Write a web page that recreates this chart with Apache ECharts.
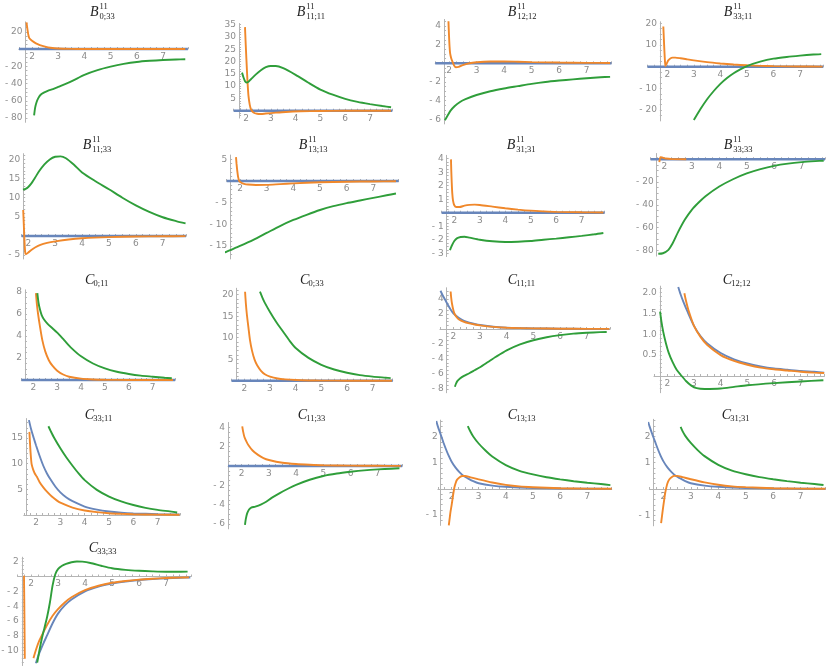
<!doctype html>
<html lang="en">
<head>
    <meta charset="UTF-8">
    <title>B and C coefficients</title>
    <script type="text/javascript" src="https://cdn.jsdelivr.net/npm/echarts@6.0.0/dist/echarts.min.js"></script>
    <style>
        html, body { margin: 0; padding: 0; background: #fff; }
        #main { width: 830px; height: 668px; }
    </style>
</head>
<body>
<div id="main"></div>
<script type="text/javascript">
    // values, [x, y] pairs per curve
    var xLabels = [2, 3, 4, 5, 6, 7];

    // B^11_{0;33}
    var B033_blue = [[1.5, 0], [7.95, 0]];
    var B033_orange = [[1.79, 31], [1.83, 22], [1.87, 15], [1.9, 12.4], [2.0, 9.5], [2.15, 6.5], [2.3, 4.6], [2.5, 2.8], [2.7, 1.5], [3, 0.5], [3.5, 0.1], [4, 0.02], [7.85, 0]];
    var B033_green = [[2.08, -77], [2.12, -68], [2.17, -62], [2.24, -57], [2.33, -53], [2.45, -50.5], [2.6, -48.5], [2.8, -46.5], [3, -44], [3.5, -37.5], [4, -30], [4.5, -24.5], [5, -20.5], [5.5, -17.3], [6, -15], [6.5, -13.7], [7, -12.8], [7.5, -12.2], [7.85, -11.8]];

    // B^11_{11;11}
    var B1111_blue = [[1.5, 0], [7.9, 0]];
    var B1111_orange = [[1.96, 34], [1.98, 29], [2.0, 24.5], [2.03, 18], [2.06, 12], [2.1, 6], [2.15, 2.5], [2.2, 0.6], [2.3, -0.7], [2.45, -1.25], [2.6, -1.35], [2.8, -1.15], [3.2, -0.8], [3.6, -0.5], [4.2, -0.25], [5, -0.1], [6, -0.03], [7.85, 0]];
    var B1111_green = [[1.84, 15.5], [1.9, 13.5], [1.96, 12], [2.02, 11.5], [2.1, 11.8], [2.2, 12.8], [2.4, 14.8], [2.6, 16.5], [2.8, 17.7], [3.0, 18.2], [3.2, 18.2], [3.5, 17.3], [4, 14.6], [4.5, 11.5], [5, 8.6], [5.5, 6.5], [6, 4.8], [6.5, 3.6], [7, 2.7], [7.5, 1.9], [7.85, 1.4]];

    // B^11_{12;12}
    var B1212_blue = [[1.5, 0], [7.9, 0]];
    var B1212_orange = [[1.98, 4.5], [2.0, 3.0], [2.02, 1.8], [2.04, 1.1], [2.08, 0.55], [2.13, 0.15], [2.18, -0.2], [2.25, -0.42], [2.35, -0.38], [2.5, -0.2], [2.7, -0.02], [3.0, 0.12], [3.5, 0.2], [4, 0.2], [4.5, 0.17], [5, 0.13], [6, 0.08], [7, 0.05], [7.85, 0.03]];
    var B1212_green = [[1.85, -6.1], [1.95, -5.6], [2.05, -5.1], [2.2, -4.6], [2.4, -4.15], [2.6, -3.85], [3, -3.4], [3.5, -3.0], [4, -2.7], [4.5, -2.45], [5, -2.2], [5.5, -2.0], [6, -1.85], [6.5, -1.72], [7, -1.6], [7.5, -1.5], [7.85, -1.45]];

    // B^11_{33;11}
    var B3311_blue = [[1.25, 0], [7.88, 0]];
    var B3311_orange = [[1.85, 18.5], [1.87, 13], [1.89, 7.5], [1.91, 3], [1.93, 0.3], [1.95, 0.5], [1.98, 1.5], [2.03, 2.8], [2.1, 3.7], [2.2, 4.2], [2.3, 4.2], [2.5, 3.9], [2.75, 3.4], [3, 2.9], [3.5, 2.1], [4, 1.5], [4.5, 1.0], [5, 0.65], [5.5, 0.4], [6, 0.25], [7, 0.1], [7.85, 0.05]];
    var B3311_green = [[3.0, -24.6], [3.25, -19.5], [3.5, -15], [3.75, -11.2], [4, -7.9], [4.25, -5.2], [4.5, -3], [4.75, -1.2], [5, 0.3], [5.5, 2.3], [6, 3.7], [6.5, 4.5], [7, 5.1], [7.5, 5.6], [7.8, 5.8]];

    // B^11_{11;33}
    var B1133_blue = [[1.75, 0], [7.87, 0]];
    var B1133_orange = [[1.81, 6.8], [1.83, 3.5], [1.85, 0], [1.87, -3], [1.89, -4.5], [1.92, -4.7], [2.0, -4.3], [2.1, -3.7], [2.25, -3.0], [2.45, -2.3], [2.7, -1.8], [3, -1.4], [3.5, -0.9], [4, -0.6], [5, -0.3], [6, -0.15], [7, -0.07], [7.85, -0.04]];
    var B1133_green = [[1.8, 12.1], [1.9, 12.3], [2.0, 12.8], [2.1, 13.6], [2.25, 15.2], [2.4, 16.9], [2.6, 18.7], [2.8, 20], [3.0, 20.7], [3.2, 20.8], [3.4, 20.3], [3.7, 18.6], [4, 16.6], [4.5, 14.3], [5, 12.2], [5.5, 10], [6, 8], [6.5, 6.3], [7, 4.9], [7.5, 3.9], [7.85, 3.3]];

    // B^11_{13;13}
    var B1313_blue = [[1.5, 0], [7.95, 0]];
    var B1313_orange = [[1.85, 5.5], [1.87, 4], [1.9, 2.2], [1.93, 0.9], [1.97, 0], [2.05, -0.4], [2.15, -0.65], [2.3, -0.82], [2.6, -0.92], [3, -0.9], [3.5, -0.72], [4, -0.55], [5, -0.3], [6, -0.16], [7, -0.1], [7.85, -0.07]];
    var B1313_green = [[1.25, -17], [1.5, -16.3], [2, -15], [2.5, -13.6], [3, -12], [3.5, -10.4], [4, -9], [4.5, -7.8], [5, -6.7], [5.5, -5.8], [6, -5.1], [6.5, -4.5], [7, -3.9], [7.5, -3.3], [7.85, -2.9]];

    // B^11_{31;31}
    var B3131_blue = [[1.5, 0], [7.9, 0]];
    var B3131_orange = [[1.87, 3.95], [1.88, 3.2], [1.9, 2.2], [1.92, 1.45], [1.95, 0.9], [2.0, 0.55], [2.08, 0.42], [2.2, 0.42], [2.4, 0.52], [2.6, 0.58], [2.8, 0.6], [3, 0.57], [3.5, 0.45], [4, 0.33], [4.5, 0.23], [5, 0.15], [5.5, 0.1], [6, 0.06], [7, 0.03], [7.85, 0.02]];
    var B3131_green = [[1.83, -2.77], [1.9, -2.45], [2.0, -2.1], [2.1, -1.9], [2.25, -1.8], [2.4, -1.78], [2.6, -1.85], [3, -2.0], [3.5, -2.12], [4, -2.17], [4.5, -2.15], [5, -2.1], [5.5, -2.0], [6, -1.92], [6.5, -1.82], [7, -1.72], [7.5, -1.6], [7.85, -1.5]];

    // B^11_{33;33}
    var B3333_blue = [[1.5, 0], [7.85, 0]];
    var B3333_orange = [[1.82, -2.5], [1.86, 1.8], [1.92, 1.5], [2.05, 0.6], [2.3, 0.1], [2.8, 0]];
    var B3333_green = [[1.78, -83], [1.95, -82.5], [2.15, -79.5], [2.3, -74], [2.5, -64], [2.75, -53], [3, -44.4], [3.25, -38], [3.5, -32.5], [4, -24], [4.5, -17.6], [5, -12.5], [5.5, -8.7], [6, -5.8], [6.5, -3.9], [7, -2.6], [7.5, -1.7], [7.8, -1.3]];

    // C_{0;11}
    var C011_blue = [[1.5, 0], [7.94, 0]];
    var C011_orange = [[2.11, 7.9], [2.15, 6.9], [2.2, 6.0], [2.28, 4.85], [2.38, 3.6], [2.5, 2.6], [2.65, 1.8], [2.8, 1.3], [3, 0.85], [3.25, 0.5], [3.5, 0.3], [4, 0.12], [4.5, 0.05], [5, 0.02], [6, 0], [7.85, 0]];
    var C011_green = [[2.17, 7.9], [2.22, 7.0], [2.28, 6.4], [2.35, 5.9], [2.45, 5.5], [2.6, 5.1], [2.8, 4.7], [3, 4.3], [3.3, 3.6], [3.6, 2.9], [4, 2.15], [4.5, 1.5], [5, 1.05], [5.5, 0.75], [6, 0.55], [6.5, 0.4], [7, 0.3], [7.5, 0.2], [7.8, 0.16]];

    // C_{0;33}
    var C033_blue = [[1.5, 0], [7.78, 0]];
    var C033_orange = [[2.03, 20.7], [2.06, 18], [2.1, 15.4], [2.16, 12.4], [2.22, 9.5], [2.3, 7.0], [2.4, 4.9], [2.5, 3.6], [2.65, 2.3], [2.8, 1.5], [3, 0.95], [3.3, 0.5], [3.6, 0.3], [4, 0.15], [4.5, 0.06], [5, 0.02], [6, 0], [7.75, 0]];
    var C033_green = [[2.61, 20.7], [2.7, 19.4], [2.8, 18.1], [3, 16.0], [3.25, 13.6], [3.5, 11.5], [3.75, 9.4], [4, 7.6], [4.5, 5.3], [5, 3.7], [5.5, 2.6], [6, 1.85], [6.5, 1.3], [7, 0.95], [7.5, 0.7], [7.7, 0.6]];

    // C_{11;11}
    var C1111_blue = [[1.52, 5.1], [1.6, 4.5], [1.7, 3.85], [1.8, 3.2], [1.9, 2.6], [2, 2.1], [2.2, 1.5], [2.4, 1.1], [2.6, 0.85], [2.8, 0.67], [3, 0.53], [3.5, 0.3], [4, 0.18], [4.5, 0.12], [5, 0.08], [6, 0.04], [7, 0.02], [7.85, 0.01]];
    var C1111_orange = [[1.9, 5.0], [1.92, 4.2], [1.95, 3.4], [2.0, 2.55], [2.05, 2.0], [2.12, 1.6], [2.2, 1.3], [2.4, 0.95], [2.6, 0.75], [2.8, 0.6], [3, 0.48], [3.5, 0.28], [4, 0.17], [5, 0.08], [6, 0.04], [7, 0.02], [7.85, 0.01]];
    var C1111_green = [[2.06, -7.7], [2.1, -7.3], [2.15, -6.95], [2.25, -6.6], [2.4, -6.25], [2.6, -5.9], [2.8, -5.5], [3, -5.1], [3.3, -4.4], [3.6, -3.7], [4, -2.85], [4.5, -2.05], [5, -1.5], [5.5, -1.1], [6, -0.82], [6.5, -0.62], [7, -0.5], [7.5, -0.42], [7.75, -0.4]];

    // C_{12;12}
    var C1212_blue = [[2.41, 2.13], [2.5, 1.95], [2.6, 1.78], [2.75, 1.55], [3, 1.2], [3.25, 0.95], [3.5, 0.78], [4, 0.55], [4.5, 0.4], [5, 0.3], [5.5, 0.23], [6, 0.18], [6.5, 0.15], [7, 0.12], [7.5, 0.1], [7.88, 0.08]];
    var C1212_orange = [[2.64, 1.98], [2.7, 1.8], [2.8, 1.56], [3, 1.2], [3.25, 0.93], [3.5, 0.74], [4, 0.5], [4.5, 0.36], [5, 0.27], [5.5, 0.2], [6, 0.16], [6.5, 0.13], [7, 0.1], [7.5, 0.08], [7.88, 0.07]];
    var C1212_green = [[1.73, 1.54], [1.78, 1.3], [1.85, 1.05], [1.95, 0.78], [2.05, 0.56], [2.2, 0.33], [2.35, 0.15], [2.5, 0.03], [2.7, -0.12], [2.9, -0.23], [3.1, -0.29], [3.4, -0.31], [4, -0.3], [4.5, -0.26], [5, -0.22], [6, -0.17], [7, -0.13], [7.85, -0.1]];

    // C_{33;11}
    var C3311_blue = [[1.71, 18.5], [1.8, 16.7], [1.9, 15.1], [2, 13.6], [2.15, 11.5], [2.3, 9.6], [2.45, 8.1], [2.6, 6.9], [2.8, 5.5], [3, 4.4], [3.25, 3.4], [3.5, 2.7], [4, 1.65], [4.5, 1.05], [5, 0.68], [5.5, 0.46], [6, 0.32], [7, 0.16], [7.9, 0.1]];
    var C3311_orange = [[1.73, 16.2], [1.75, 14.3], [1.78, 12], [1.82, 9.9], [1.88, 8.9], [1.95, 8.1], [2.03, 7.5], [2.15, 6.4], [2.3, 5.4], [2.45, 4.55], [2.65, 3.6], [2.85, 2.85], [3, 2.4], [3.5, 1.45], [4, 0.88], [4.5, 0.55], [5, 0.35], [5.5, 0.23], [6, 0.15], [7, 0.07], [7.9, 0.04]];
    var C3311_green = [[2.51, 17.3], [2.6, 16.4], [2.75, 15], [3, 13], [3.25, 11.2], [3.5, 9.6], [3.75, 8.1], [4, 6.8], [4.5, 4.9], [5, 3.6], [5.5, 2.65], [6, 1.95], [6.5, 1.4], [7, 1.0], [7.5, 0.7], [7.8, 0.5]];

    // C_{11;33}
    var C1133_blue = [[1.5, 0], [7.9, 0]];
    var C1133_orange = [[2.02, 4.1], [2.05, 3.6], [2.1, 3.0], [2.18, 2.5], [2.25, 2.15], [2.4, 1.6], [2.6, 1.15], [2.8, 0.82], [3, 0.62], [3.5, 0.33], [4, 0.2], [4.5, 0.13], [5, 0.08], [6, 0.04], [7, 0.02], [7.85, 0.01]];
    var C1133_green = [[2.12, -6.1], [2.15, -5.5], [2.2, -4.9], [2.27, -4.5], [2.35, -4.3], [2.5, -4.2], [2.7, -4.0], [2.9, -3.7], [3.1, -3.3], [3.4, -2.8], [3.7, -2.35], [4, -1.95], [4.5, -1.42], [5, -1.03], [5.5, -0.78], [6, -0.6], [6.5, -0.45], [7, -0.35], [7.5, -0.28], [7.8, -0.24]];

    // C_{13;13}
    var C1313_blue = [[1.44, 2.62], [1.5, 2.4], [1.6, 2.1], [1.7, 1.8], [1.8, 1.52], [1.9, 1.27], [2, 1.06], [2.15, 0.82], [2.3, 0.64], [2.45, 0.5], [2.6, 0.41], [2.8, 0.3], [3, 0.22], [3.5, 0.13], [4, 0.085], [5, 0.04], [6, 0.02], [7, 0.01], [7.9, 0.005]];
    var C1313_orange = [[1.9, -1.4], [1.93, -1.15], [1.96, -0.9], [2.0, -0.65], [2.05, -0.3], [2.1, 0.03], [2.15, 0.22], [2.2, 0.35], [2.3, 0.45], [2.4, 0.5], [2.5, 0.5], [2.7, 0.45], [3, 0.37], [3.5, 0.25], [4, 0.16], [4.5, 0.1], [5, 0.07], [6, 0.03], [7, 0.015], [7.9, 0.01]];
    var C1313_green = [[2.6, 2.42], [2.7, 2.2], [2.8, 2.02], [3, 1.75], [3.25, 1.48], [3.5, 1.25], [4, 0.92], [4.5, 0.7], [5, 0.56], [5.5, 0.45], [6, 0.37], [6.5, 0.3], [7, 0.24], [7.5, 0.19], [7.85, 0.15]];

    // C_{31;31}
    var C3131_blue = [[1.45, 2.55], [1.5, 2.38], [1.6, 2.08], [1.7, 1.8], [1.8, 1.52], [1.9, 1.27], [2, 1.06], [2.15, 0.82], [2.3, 0.64], [2.45, 0.5], [2.6, 0.41], [2.8, 0.3], [3, 0.22], [3.5, 0.13], [4, 0.085], [5, 0.04], [6, 0.02], [7, 0.01], [7.9, 0.005]];
    var C3131_orange = [[1.92, -1.3], [1.95, -1.05], [1.98, -0.8], [2.02, -0.5], [2.07, -0.15], [2.12, 0.1], [2.17, 0.27], [2.23, 0.38], [2.3, 0.45], [2.4, 0.5], [2.5, 0.5], [2.7, 0.45], [3, 0.37], [3.5, 0.25], [4, 0.16], [4.5, 0.1], [5, 0.07], [6, 0.03], [7, 0.015], [7.9, 0.01]];
    var C3131_green = [[2.63, 2.36], [2.7, 2.2], [2.8, 2.02], [3, 1.75], [3.25, 1.48], [3.5, 1.25], [4, 0.92], [4.5, 0.7], [5, 0.56], [5.5, 0.45], [6, 0.37], [6.5, 0.3], [7, 0.24], [7.5, 0.19], [7.83, 0.15]];

    // C_{33;33} (orange has a pole, drawn in two pieces)
    var C3333_blue = [[2.18, -11.7], [2.3, -10.4], [2.46, -9.0], [2.6, -7.9], [2.8, -6.3], [3, -5.0], [3.25, -3.9], [3.5, -3.1], [4, -2.0], [4.5, -1.35], [5, -0.95], [5.5, -0.68], [6, -0.48], [6.5, -0.34], [7, -0.24], [7.5, -0.17], [7.9, -0.13]];
    var C3333_orangeA = [[1.74, 0.1], [1.75, -3], [1.76, -7], [1.77, -11.1]];
    var C3333_orangeB = [[2.09, -11.0], [2.2, -9.7], [2.3, -8.7], [2.46, -7.5], [2.6, -6.5], [2.8, -5.3], [3, -4.4], [3.25, -3.5], [3.5, -2.8], [4, -1.85], [4.5, -1.25], [5, -0.85], [5.5, -0.6], [6, -0.42], [6.5, -0.3], [7, -0.21], [7.5, -0.15], [7.85, -0.12]];
    var C3333_green = [[2.23, -11.6], [2.3, -10.2], [2.4, -8.4], [2.5, -6.9], [2.6, -5.4], [2.7, -3.5], [2.8, -1.2], [2.9, 0.3], [3, 1.0], [3.15, 1.45], [3.3, 1.7], [3.5, 1.92], [3.7, 2.02], [3.9, 2.0], [4.2, 1.82], [4.6, 1.45], [5, 1.12], [5.5, 0.9], [6, 0.77], [6.5, 0.69], [7, 0.64], [7.5, 0.64], [7.8, 0.66]];

    var BLUE = '#6886bb', ORANGE = '#f0882b', GREEN = '#2f9e3a';

    // panel layout: pixel of x=2 / x=7, pixel of y=0, px per y unit, ranges, where the y axis crosses
    var panels = [
        {t: ['B', '11', '0;33'], cx: 104, cy: 12, x2: 32, x7: 163, y0: 49, pyu: 0.8625, xMin: 1.5, xMax: 7.95, org: 1.75, yMin: -85, yMax: 31.5, major: 20, step: 5,
            curves: [[B033_blue, BLUE], [B033_orange, ORANGE], [B033_green, GREEN]]},
        {t: ['B', '11', '11;11'], cx: 313, cy: 12, x2: 246, x7: 370, y0: 110.7, pyu: 2.457, xMin: 1.5, xMax: 7.9, org: 1.72, yMin: -3, yMax: 35.5, major: 5, step: 1,
            curves: [[B1111_blue, BLUE], [B1111_orange, ORANGE], [B1111_green, GREEN]]},
        {t: ['B', '11', '12;12'], cx: 524, cy: 12, x2: 449, x7: 586.7, y0: 63.3, pyu: 9.33, xMin: 1.5, xMax: 7.9, org: 1.82, yMin: -6.5, yMax: 4.7, major: 2, step: 0.5,
            curves: [[B1212_blue, BLUE], [B1212_orange, ORANGE], [B1212_green, GREEN]]},
        {t: ['B', '11', '33;11'], cx: 740, cy: 12, x2: 667.3, x7: 800, y0: 66.7, pyu: 2.17, xMin: 1.25, xMax: 7.88, org: 1.72, yMin: -25, yMax: 20.7, major: 10, step: 2.5,
            curves: [[B3311_blue, BLUE], [B3311_orange, ORANGE], [B3311_green, GREEN]]},
        {t: ['B', '11', '11;33'], cx: 99, cy: 145, x2: 28.3, x7: 162.7, y0: 236, pyu: 3.83, xMin: 1.75, xMax: 7.87, org: 1.81, yMin: -6, yMax: 21.5, major: 5, step: 1,
            curves: [[B1133_blue, BLUE], [B1133_orange, ORANGE], [B1133_green, GREEN]]},
        {t: ['B', '11', '13;13'], cx: 315, cy: 145, x2: 240, x7: 373.3, y0: 181, pyu: 4.33, xMin: 1.5, xMax: 7.95, org: 1.63, yMin: -18, yMax: 6, major: 5, step: 1,
            curves: [[B1313_blue, BLUE], [B1313_orange, ORANGE], [B1313_green, GREEN]]},
        {t: ['B', '11', '31;31'], cx: 523, cy: 145, x2: 454.3, x7: 581.7, y0: 212.7, pyu: 13.5, xMin: 1.5, xMax: 7.9, org: 1.7, yMin: -3.25, yMax: 4.25, major: 1, step: 0.25,
            curves: [[B3131_blue, BLUE], [B3131_orange, ORANGE], [B3131_green, GREEN]]},
        {t: ['B', '11', '33;33'], cx: 740, cy: 145, x2: 664.3, x7: 801.7, y0: 159.2, pyu: 1.14, xMin: 1.5, xMax: 7.85, org: 1.72, yMin: -85, yMax: 5, major: 20, step: 5,
            curves: [[B3333_blue, BLUE], [B3333_orange, ORANGE], [B3333_green, GREEN]]},
        {t: ['C', '', '0;11'], cx: 99, cy: 280, x2: 33.3, x7: 152.7, y0: 380, pyu: 11, xMin: 1.5, xMax: 7.94, org: 1.65, yMin: 0, yMax: 8.2, major: 2, step: 0.5,
            curves: [[C011_blue, BLUE], [C011_orange, ORANGE], [C011_green, GREEN]]},
        {t: ['C', '', '0;33'], cx: 314, cy: 280, x2: 244.3, x7: 372.7, y0: 380.7, pyu: 4.3, xMin: 1.5, xMax: 7.78, org: 1.7, yMin: 0, yMax: 21.5, major: 5, step: 1,
            curves: [[C033_blue, BLUE], [C033_orange, ORANGE], [C033_green, GREEN]]},
        {t: ['C', '', '11;11'], cx: 524, cy: 280, x2: 453.3, x7: 586.7, y0: 329, pyu: 7.5, xMin: 1.5, xMax: 7.88, org: 1.75, yMin: -8.5, yMax: 5.5, major: 2, step: 0.5,
            curves: [[C1111_blue, BLUE], [C1111_orange, ORANGE], [C1111_green, GREEN]]},
        {t: ['C', '', '12;12'], cx: 739, cy: 280, x2: 667.3, x7: 800.7, y0: 376, pyu: 41.8, xMin: 1.5, xMax: 7.89, org: 1.72, yMin: -0.4, yMax: 2.15, major: 0.5, step: 0.1, dec: 1,
            curves: [[C1212_blue, BLUE], [C1212_orange, ORANGE], [C1212_green, GREEN]]},
        {t: ['C', '', '33;11'], cx: 101, cy: 415, x2: 36, x7: 157.7, y0: 515, pyu: 5.13, xMin: 1.5, xMax: 7.92, org: 1.59, yMin: 0, yMax: 18.8, major: 5, step: 1,
            curves: [[C3311_blue, BLUE], [C3311_orange, ORANGE], [C3311_green, GREEN]]},
        {t: ['C', '', '11;33'], cx: 314, cy: 415, x2: 241.7, x7: 377.7, y0: 466, pyu: 9.67, xMin: 1.5, xMax: 7.9, org: 1.5, yMin: -6.5, yMax: 4.5, major: 2, step: 0.5,
            curves: [[C1133_blue, BLUE], [C1133_orange, ORANGE], [C1133_green, GREEN]]},
        {t: ['C', '', '13;13'], cx: 524, cy: 415, x2: 451.5, x7: 587.3, y0: 489, pyu: 26, xMin: 1.5, xMax: 7.9, org: 1.6, yMin: -1.4, yMax: 2.65, major: 1, step: 0.2,
            curves: [[C1313_blue, BLUE], [C1313_orange, ORANGE], [C1313_green, GREEN]]},
        {t: ['C', '', '31;31'], cx: 738, cy: 415, x2: 663.3, x7: 800.7, y0: 489, pyu: 26.3, xMin: 1.5, xMax: 7.9, org: 1.64, yMin: -1.4, yMax: 2.65, major: 1, step: 0.2,
            curves: [[C3131_blue, BLUE], [C3131_orange, ORANGE], [C3131_green, GREEN]]},
        {t: ['C', '', '33;33'], cx: 105, cy: 548, x2: 31, x7: 166, y0: 576.5, pyu: 7.42, xMin: 1.5, xMax: 7.94, org: 1.66, yMin: -12, yMax: 2.6, major: 2, step: 0.5,
            curves: [[C3333_blue, BLUE], [C3333_orangeA, ORANGE], [C3333_orangeB, ORANGE], [C3333_green, GREEN]]}
    ];

    function yFmt(major, dec) {
        return function (v) {
            if (Math.abs(v) < 1e-9) return '';
            var r = v / major;
            if (Math.abs(r - Math.round(r)) > 1e-6) return '';
            var s = Math.abs(v).toFixed(dec || 0);
            return v < 0 ? '- ' + s : s;
        };
    }
    function xFmt(v) {
        var r = Math.round(v);
        if (Math.abs(v - r) > 1e-6 || xLabels.indexOf(r) < 0) return '';
        return String(r);
    }

    var AXIS = '#b4b4b4', LABEL = '#8c8c8c';
    var grids = [], xAxes = [], yAxes = [], series = [], graphics = [];

    panels.forEach(function (p, i) {
        var pxu = (p.x7 - p.x2) / 5;
        grids.push({
            left: p.x2 + (p.xMin - 2) * pxu,
            top: p.y0 - p.yMax * p.pyu,
            width: (p.xMax - p.xMin) * pxu,
            height: (p.yMax - p.yMin) * p.pyu,
            containLabel: false,
            outerBoundsMode: 'none'
        });
        // x axis drawn at y = 0 by shifting it up from the grid bottom
        xAxes.push({
            type: 'value', gridIndex: i, min: p.xMin, max: p.xMax, interval: 0.25,
            position: 'bottom', offset: p.yMin * p.pyu,
            axisLine: {onZero: false, lineStyle: {color: AXIS, width: 1}},
            axisTick: {inside: true, length: 2, lineStyle: {color: AXIS}},
            axisLabel: {formatter: xFmt, color: LABEL, fontSize: 9, fontFamily: 'DejaVu Sans', margin: 3},
            splitLine: {show: false}
        });
        // y axis drawn at x = org
        yAxes.push({
            type: 'value', gridIndex: i, min: p.yMin, max: p.yMax, interval: p.step,
            position: 'left', offset: -(p.org - p.xMin) * pxu,
            axisLine: {onZero: false, lineStyle: {color: AXIS, width: 1}},
            axisTick: {inside: true, length: 2, lineStyle: {color: AXIS}},
            axisLabel: {formatter: yFmt(p.major, p.dec), color: LABEL, fontSize: 9, fontFamily: 'DejaVu Sans', margin: 3,
                showMinLabel: false, showMaxLabel: false},
            splitLine: {show: false}
        });
        p.curves.forEach(function (c) {
            series.push({
                type: 'line', xAxisIndex: i, yAxisIndex: i, data: c[0],
                showSymbol: false, symbol: 'none', clip: false, silent: true, animation: false,
                smooth: 0.25,
                lineStyle: {color: c[1], width: c[0].length === 2 ? 2.6 : 1.9}
            });
        });

        // title: letter with stacked superscript / subscript
        var subW = p.t[2].length * 4.6, letterW = 9.5;
        var x0 = p.cx - (letterW + subW) / 2;
        graphics.push({type: 'text', x: x0, y: p.cy, silent: true,
            style: {text: p.t[0], font: 'italic 14px "Liberation Serif"', fill: '#222', textAlign: 'left', textVerticalAlign: 'middle'}});
        if (p.t[1]) {
            graphics.push({type: 'text', x: x0 + letterW, y: p.cy - 5, silent: true,
                style: {text: p.t[1], font: '8.5px "Liberation Serif"', fill: '#222', textAlign: 'left', textVerticalAlign: 'middle'}});
        }
        graphics.push({type: 'text', x: x0 + letterW - (p.t[0] === 'C' ? 1 : 0), y: p.cy + (p.t[1] ? 4.5 : 4), silent: true,
            style: {text: p.t[2], font: '8.5px "Liberation Serif"', fill: '#222', textAlign: 'left', textVerticalAlign: 'middle'}});
    });

    var myChart = echarts.init(document.getElementById('main'), null, {renderer: 'canvas'});
    myChart.setOption({
        animation: false,
        backgroundColor: '#ffffff',
        grid: grids,
        xAxis: xAxes,
        yAxis: yAxes,
        series: series,
        graphic: graphics
    });
</script>
</body>
</html>
